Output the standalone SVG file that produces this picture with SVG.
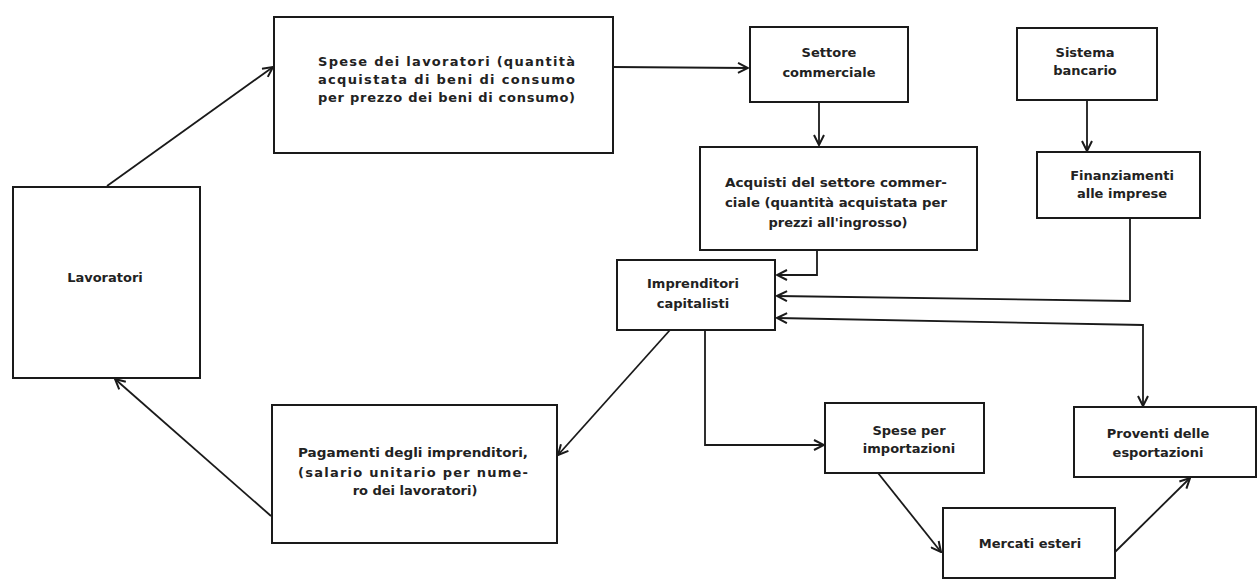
<svg xmlns="http://www.w3.org/2000/svg" width="1258" height="581" viewBox="0 0 1258 581">
<defs>
<style>
.box{fill:#fff;stroke:#1a1a1a;stroke-width:2}
.t{font-family:"DejaVu Sans","Liberation Sans",Arial,sans-serif;font-weight:bold;font-size:13px;fill:#222}
.c{text-anchor:middle}
.ln{fill:none;stroke:#1a1a1a;stroke-width:1.8}
</style>
<marker id="ah" viewBox="0 0 12 12" refX="11" refY="6" markerWidth="12" markerHeight="12" markerUnits="userSpaceOnUse" orient="auto-start-reverse">
<path d="M1,1 L11,6 L1,11" fill="none" stroke="#1a1a1a" stroke-width="2"/>
</marker>
</defs>
<rect width="1258" height="581" fill="#fff"/>
<g id="connectors">
<path class="ln" d="M107,186 L273,67" marker-end="url(#ah)"/>
<path class="ln" d="M613,67 L748,68" marker-end="url(#ah)"/>
<path class="ln" d="M819,102 L819,145" marker-end="url(#ah)"/>
<path class="ln" d="M817,250 L817,275 L777,275" marker-end="url(#ah)"/>
<path class="ln" d="M1087,100 L1087,151" marker-end="url(#ah)"/>
<path class="ln" d="M1130,218 L1130,301 L777,296" marker-end="url(#ah)"/>
<path class="ln" d="M777,318 L1143,325 L1143,406" marker-start="url(#ah)" marker-end="url(#ah)"/>
<path class="ln" d="M705,330 L705,445 L824,445" marker-end="url(#ah)"/>
<path class="ln" d="M670,330 L558,455" marker-end="url(#ah)"/>
<path class="ln" d="M271,516 L115,379" marker-end="url(#ah)"/>
<path class="ln" d="M878,473 L941,552" marker-end="url(#ah)"/>
<path class="ln" d="M1115,552 L1190,478" marker-end="url(#ah)"/>
</g>
<g id="spese-lavoratori">
<rect class="box" x="274" y="17" width="339" height="136"/>
<text class="t" x="318" y="66" textLength="257" lengthAdjust="spacing">Spese dei lavoratori (quantità</text>
<text class="t" x="318" y="84" textLength="257" lengthAdjust="spacing">acquistata di beni di consumo</text>
<text class="t" x="318" y="102" textLength="257" lengthAdjust="spacing">per prezzo dei beni di consumo)</text>
</g>
<g id="settore-commerciale">
<rect class="box" x="750" y="27" width="158" height="75"/>
<text class="t c" x="829" y="57">Settore</text>
<text class="t c" x="829" y="77">commerciale</text>
</g>
<g id="sistema-bancario">
<rect class="box" x="1017" y="28" width="140" height="72"/>
<text class="t c" x="1085" y="57">Sistema</text>
<text class="t c" x="1085" y="75">bancario</text>
</g>
<g id="acquisti">
<rect class="box" x="700" y="147" width="277" height="103"/>
<text class="t" x="725" y="187" textLength="222" lengthAdjust="spacingAndGlyphs">Acquisti del settore commer-</text>
<text class="t" x="725" y="207" textLength="222" lengthAdjust="spacingAndGlyphs">ciale (quantità acquistata per</text>
<text class="t c" x="838" y="227">prezzi all'ingrosso)</text>
</g>
<g id="finanziamenti">
<rect class="box" x="1037" y="152" width="163" height="66"/>
<text class="t c" x="1122" y="180">Finanziamenti</text>
<text class="t c" x="1122" y="198">alle imprese</text>
</g>
<g id="imprenditori">
<rect class="box" x="617" y="260" width="158" height="70"/>
<text class="t c" x="693" y="288">Imprenditori</text>
<text class="t c" x="693" y="308">capitalisti</text>
</g>
<g id="lavoratori">
<rect class="box" x="13" y="187" width="187" height="191"/>
<text class="t c" x="105" y="282">Lavoratori</text>
</g>
<g id="pagamenti">
<rect class="box" x="272" y="405" width="285" height="138"/>
<text class="t" x="298" y="457" textLength="230" lengthAdjust="spacingAndGlyphs">Pagamenti degli imprenditori,</text>
<text class="t" x="298" y="477" textLength="230" lengthAdjust="spacing">(salario unitario per nume-</text>
<text class="t c" x="415" y="495">ro dei lavoratori)</text>
</g>
<g id="spese-importazioni">
<rect class="box" x="825" y="403" width="159" height="70"/>
<text class="t c" x="909" y="435">Spese per</text>
<text class="t c" x="909" y="453">importazioni</text>
</g>
<g id="proventi">
<rect class="box" x="1074" y="407" width="182" height="70"/>
<text class="t c" x="1158" y="438">Proventi delle</text>
<text class="t c" x="1158" y="457">esportazioni</text>
</g>
<g id="mercati-esteri">
<rect class="box" x="943" y="508" width="172" height="70"/>
<text class="t c" x="1030" y="548">Mercati esteri</text>
</g>
</svg>
